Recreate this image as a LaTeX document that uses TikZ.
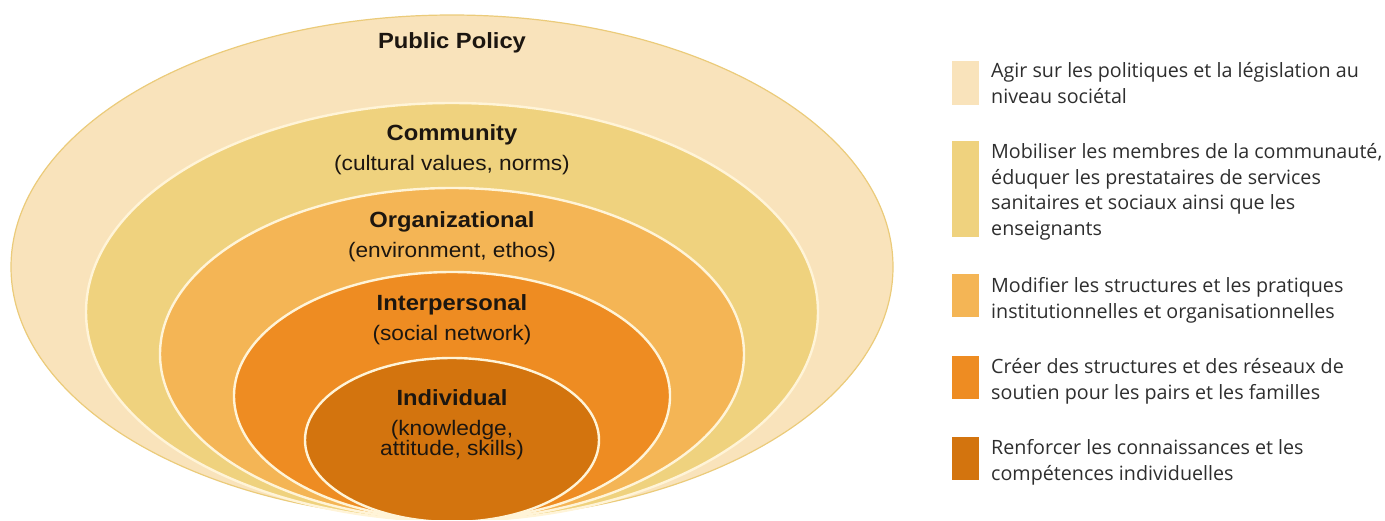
\documentclass[tikz,border=0pt]{standalone}
\usepackage{fontspec}
\setmainfont{Liberation Sans}
\newfontfamily\legendfont{Open Sans}
\definecolor{policyfill}{HTML}{F9E3BB}
\definecolor{communityfill}{HTML}{EFD27E}
\definecolor{orgfill}{HTML}{F4B555}
\definecolor{interfill}{HTML}{EE8C22}
\definecolor{indivfill}{HTML}{D3740E}
\definecolor{ringline}{HTML}{FFF4D8}
\definecolor{rimline}{HTML}{EBCB7A}
\definecolor{ink}{HTML}{1C1610}
\definecolor{legendink}{HTML}{2E2E2E}
\begin{document}
\begin{tikzpicture}[x=1pt,y=-1pt,
  ring/.style={draw=ringline, line width=2.4pt},
  title/.style={font=\fontsize{22}{24}\selectfont\bfseries, text=ink, xscale=1.08, inner sep=0pt, anchor=base},
  sub/.style={font=\fontsize{21}{22}\selectfont, text=ink, xscale=1.08, inner sep=0pt, anchor=base},
  swatch/.style={inner sep=0pt, minimum width=27pt, anchor=north west},
  legend/.style={font=\legendfont\fontsize{19.7}{25.5}\selectfont, text=legendink, anchor=north west, align=left, inner sep=0pt}
]
\useasboundingbox (0,0) rectangle (1385,520);
\begin{scope}
  \clip (0,0) rectangle (1385,519);
  % nested levels, all sharing the same bottom point
  \fill[policyfill] (452,267) ellipse [x radius=441pt, y radius=252pt];
  \draw[rimline, line width=1.2pt] (452,267) ellipse [x radius=441pt, y radius=252pt];
  \filldraw[fill=communityfill, ring] (452,312) ellipse [x radius=366pt, y radius=209pt];
  \filldraw[fill=orgfill, ring] (452,354) ellipse [x radius=292pt, y radius=166pt];
  \filldraw[fill=interfill, ring] (452,396) ellipse [x radius=218pt, y radius=124pt];
  \filldraw[fill=indivfill, ring] (452,440) ellipse [x radius=147pt, y radius=82pt];
\end{scope}

% level labels
\node[title] (policy) at (452,48) {Public Policy};
\node[title] (community) at (452,140) {Community};
\node[sub] (communitysub) at (452,170) {(cultural values, norms)};
\node[title] (org) at (452,227) {Organizational};
\node[sub] (orgsub) at (452,257) {(environment, ethos)};
\node[title] (inter) at (452,310) {Interpersonal};
\node[sub] (intersub) at (452,340) {(social network)};
\node[title] (indiv) at (452,405) {Individual};
\node[sub] (indivsubA) at (452,435) {(knowledge,};
\node[sub] (indivsubB) at (452,455) {attitude, skills)};

% legend swatches
\node[swatch, fill=policyfill, minimum height=44pt] (k1) at (952,61) {};
\node[swatch, fill=communityfill, minimum height=96pt] (k2) at (952,141) {};
\node[swatch, fill=orgfill, minimum height=43pt] (k3) at (952,274) {};
\node[swatch, fill=interfill, minimum height=43pt] (k4) at (952,356) {};
\node[swatch, fill=indivfill, minimum height=43pt] (k5) at (952,437) {};

% legend texts: the strut fixes the first baseline 17.85pt below the top
\node[legend] (t1) at (991,59.5) {\strut Agir sur les politiques et la législation au\\niveau sociétal};
\node[legend] (t2) at (991,140.5) {\strut Mobiliser les membres de la communauté,\\éduquer les prestataires de services\\sanitaires et sociaux ainsi que les\\enseignants};
\node[legend] (t3) at (991,274.5) {\strut Modifier les structures et les pratiques\\institutionnelles et organisationnelles};
\node[legend] (t4) at (991,355.5) {\strut Créer des structures et des réseaux de\\soutien pour les pairs et les familles};
\node[legend] (t5) at (991,436.5) {\strut Renforcer les connaissances et les\\compétences individuelles};
\end{tikzpicture}
\end{document}
